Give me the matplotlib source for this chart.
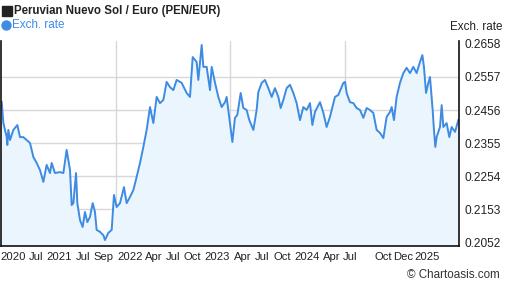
import matplotlib
matplotlib.use("Agg")
import matplotlib.pyplot as plt
from matplotlib.patches import Rectangle, Ellipse

plt.rcParams['font.family'] = ['Liberation Sans', 'DejaVu Sans']

# time as decimal years, exchange rate PEN/EUR
years = [
    2020.009, 2020.031, 2020.074, 2020.083, 2020.096, 2020.118, 2020.162, 2020.214,
    2020.249, 2020.293, 2020.336, 2020.380, 2020.424, 2020.467, 2020.511, 2020.555,
    2020.598, 2020.642, 2020.664, 2020.707, 2020.773, 2020.817, 2020.860, 2020.882,
    2020.904, 2020.926, 2020.948, 2020.983, 2021.000, 2021.035, 2021.070, 2021.100,
    2021.131, 2021.166, 2021.201, 2021.231, 2021.253, 2021.297, 2021.341, 2021.362,
    2021.406, 2021.450, 2021.480, 2021.515, 2021.559, 2021.611, 2021.646, 2021.690,
    2021.734, 2021.777, 2021.821, 2021.865, 2021.908, 2021.952, 2021.996, 2022.039,
    2022.083, 2022.127, 2022.170, 2022.214, 2022.258, 2022.301, 2022.367, 2022.432,
    2022.476, 2022.511, 2022.563, 2022.585, 2022.629, 2022.651, 2022.694, 2022.738,
    2022.760, 2022.804, 2022.847, 2022.891, 2022.935, 2022.956, 2022.978, 2023.000,
    2023.031, 2023.065, 2023.096, 2023.140, 2023.175, 2023.218, 2023.253, 2023.306,
    2023.349, 2023.371, 2023.415, 2023.458, 2023.502, 2023.546, 2023.589, 2023.633,
    2023.664, 2023.699, 2023.742, 2023.786, 2023.830, 2023.873, 2023.917, 2023.961,
    2024.004, 2024.048, 2024.079, 2024.113, 2024.179, 2024.223, 2024.266, 2024.310,
    2024.375, 2024.419, 2024.485, 2024.507, 2024.528, 2024.572, 2024.616, 2024.659,
    2024.703, 2024.747, 2024.790, 2024.834, 2024.878, 2024.921, 2024.965, 2025.009,
    2025.052, 2025.096, 2025.118, 2025.148, 2025.183, 2025.227, 2025.271, 2025.314,
    2025.358, 2025.402, 2025.445, 2025.489, 2025.520, 2025.541, 2025.568, 2025.598,
    2025.620, 2025.655, 2025.672, 2025.690, 2025.707, 2025.751, 2025.773, 2025.795,
    2025.838, 2025.873, 2025.904, 2025.948, 2025.991,
]
rates = [
    0.2481, 0.2416, 0.2374, 0.2349, 0.2395, 0.2364, 0.2395, 0.2410,
    0.2373, 0.2373, 0.2364, 0.2355, 0.2312, 0.2294, 0.2272, 0.2236,
    0.2288, 0.2263, 0.2294, 0.2263, 0.2266, 0.2263, 0.2334, 0.2303,
    0.2272, 0.2165, 0.2171, 0.2263, 0.2171, 0.2119, 0.2098, 0.2144,
    0.2113, 0.2129, 0.2171, 0.2144, 0.2089, 0.2083, 0.2073, 0.2058,
    0.2080, 0.2089, 0.2196, 0.2159, 0.2171, 0.2220, 0.2171, 0.2190,
    0.2211, 0.2251, 0.2294, 0.2343, 0.2395, 0.2465, 0.2416, 0.2496,
    0.2477, 0.2487, 0.2542, 0.2526, 0.2517, 0.2548, 0.2539, 0.2508,
    0.2496, 0.2618, 0.2603, 0.2548, 0.2655, 0.2588, 0.2588, 0.2517,
    0.2588, 0.2539, 0.2496, 0.2465, 0.2480, 0.2496, 0.2456, 0.2416,
    0.2358, 0.2432, 0.2441, 0.2508, 0.2462, 0.2456, 0.2425, 0.2395,
    0.2456, 0.2511, 0.2539, 0.2548, 0.2523, 0.2496, 0.2523, 0.2496,
    0.2462, 0.2487, 0.2523, 0.2533, 0.2508, 0.2477, 0.2425, 0.2465,
    0.2456, 0.2477, 0.2410, 0.2450, 0.2480, 0.2447, 0.2404, 0.2435,
    0.2496, 0.2502, 0.2539, 0.2542, 0.2508, 0.2480, 0.2477, 0.2462,
    0.2456, 0.2432, 0.2462, 0.2456, 0.2447, 0.2395, 0.2386, 0.2370,
    0.2435, 0.2450, 0.2465, 0.2425, 0.2496, 0.2539, 0.2569, 0.2585,
    0.2569, 0.2588, 0.2569, 0.2603, 0.2624, 0.2588, 0.2508, 0.2539,
    0.2557, 0.2456, 0.2395, 0.2343, 0.2373, 0.2404, 0.2471, 0.2404,
    0.2416, 0.2373, 0.2404, 0.2389, 0.2425,
]

y_ticks = [0.2052, 0.2153, 0.2254, 0.2355, 0.2456, 0.2557, 0.2658]
x_tick_pos = [2020.165, 2020.465, 2020.765, 2021.080, 2021.340, 2021.690, 2022.000,
              2022.250, 2022.505, 2022.830, 2023.165, 2023.420, 2023.680, 2024.010,
              2024.330, 2024.570, 2025.010, 2025.265, 2025.580]
x_tick_labels = ['2020', 'Jul', '2021', 'Jul', 'Sep', '2022', 'Apr', 'Jul', 'Oct',
                 '2023', 'Apr', 'Jul', 'Oct', '2024', 'Apr', 'Jul', 'Oct', 'Dec', '2025']
x_grid = [2021.5, 2023.0, 2024.5]

line_color = '#3d8be3'
fill_color = '#eaf5fe'
fs = 8.1

fig = plt.figure(figsize=(5.07, 2.88), dpi=100)
ax = fig.add_axes([1 / 507, 42 / 288, 458 / 507, 205.5 / 288])

ax.fill_between(years, rates, 0.19, color=fill_color, lw=0)
ax.plot(years, rates, color=line_color, lw=1.4)

ax.set_xlim(2020.0, 2026.0)
ax.set_ylim(0.20398, 0.26687)

ax.yaxis.tick_right()
ax.set_yticks(y_ticks)
ax.set_yticklabels([f'{v:.4f}' for v in y_ticks])
ax.set_xticks(x_tick_pos)
ax.set_xticklabels(x_tick_labels)
ax.set_xticks(x_grid, minor=True)
ax.tick_params(axis='both', which='both', length=0, labelsize=fs, colors='#222222')
ax.tick_params(axis='y', labelsize=8.6, pad=4)
ax.tick_params(axis='x', pad=4)

ax.grid(axis='y', color='#d8d8d8', lw=1)
ax.grid(axis='x', which='minor', color='#d8d8d8', lw=1)
ax.set_axisbelow(True)
gl = ax.yaxis.get_gridlines()
gl[0].set_visible(False)
gl[-1].set_visible(False)

for s in ['left', 'bottom', 'right']:
    ax.spines[s].set_color('#111111')
    ax.spines[s].set_linewidth(1.2)
ax.spines['top'].set_visible(False)

# header
fig.patches.append(Rectangle((2 / 507, 1 - 16 / 288), 10 / 507, 10 / 288,
                             transform=fig.transFigure, color='#222222'))
fig.text(14 / 507, 1 - 11 / 288, 'Peruvian Nuevo Sol / Euro (PEN/EUR)',
         fontsize=8.3, fontweight='bold', color='#222222', va='center', ha='left')
fig.patches.append(Ellipse((6.5 / 507, 1 - 25.5 / 288), 9 / 507, 9 / 288,
                           transform=fig.transFigure, color=line_color))
fig.text(12 / 507, 1 - 25.5 / 288, 'Exch. rate', fontsize=8.4, color=line_color,
         va='center', ha='left')
fig.text(503 / 507, 1 - 27 / 288, 'Exch. rate', fontsize=8.4, color='#222222',
         va='center', ha='right')
fig.text(500 / 507, 1 - 275 / 288, '\u00a9 Chartoasis.com', fontsize=8.4, color='#333333',
         va='center', ha='right')

fig.savefig('out.png', dpi=100)
